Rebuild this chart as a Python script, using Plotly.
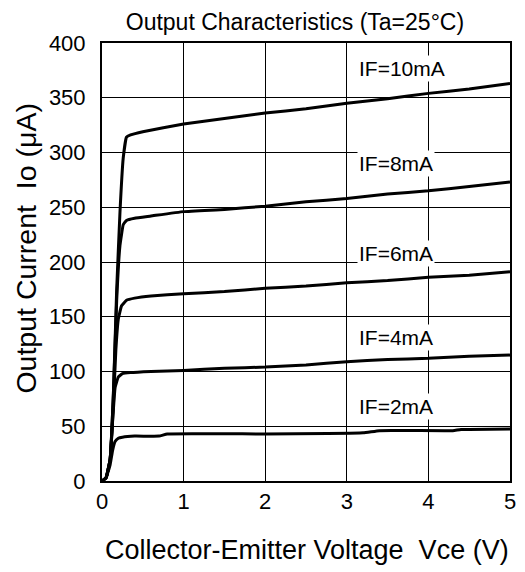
import plotly.graph_objects as go

# Vce (V) and Io (uA) for each forward current
V10 = [0, 0.05, 0.1, 0.14, 0.18, 0.22, 0.26, 0.3, 0.35, 0.5, 1, 1.5, 2, 2.5, 3, 3.5, 4, 4.5, 5]
I10 = [0, 3, 20, 80, 175, 245, 295, 314, 316, 319, 326, 331, 336, 340, 345, 349, 354, 358, 363]

V8 = [0, 0.05, 0.1, 0.14, 0.18, 0.22, 0.26, 0.3, 0.4, 0.6, 1, 1.5, 2, 2.5, 3, 3.5, 4, 4.5, 5]
I8 = [0, 3, 20, 80, 165, 215, 234, 238, 240, 242, 246, 248, 251, 255, 258, 262, 265, 269, 273]

V6 = [0, 0.05, 0.1, 0.14, 0.17, 0.2, 0.24, 0.3, 0.4, 0.6, 1, 1.5, 2, 2.5, 3, 3.5, 4, 4.5, 5]
I6 = [0, 3, 20, 70, 120, 148, 160, 165, 167, 169, 171, 173, 176, 178, 181, 183, 186, 188, 191]

V4 = [0, 0.05, 0.1, 0.13, 0.16, 0.2, 0.25, 0.35, 0.6, 1, 1.5, 2, 2.5, 3, 3.5, 4, 4.5, 5]
I4 = [0, 3, 20, 55, 85, 95, 98, 99, 100, 101, 103, 104, 106, 109, 111, 112, 114, 115]

V2 = [0, 0.05, 0.1, 0.13, 0.16, 0.2, 0.25, 0.4, 0.7, 0.8, 2, 3.2, 3.4, 4.3, 4.4, 5]
I2 = [0, 3, 15, 28, 36, 39, 40, 41, 41, 43, 43, 44, 46, 46, 47, 47.5]

series = [("IF=10mA", V10, I10), ("IF=8mA", V8, I8), ("IF=6mA", V6, I6),
          ("IF=4mA", V4, I4), ("IF=2mA", V2, I2)]

label_x = 3.12
label_y = [377, 290, 208, 131, 68]

x_ticks = [0, 1, 2, 3, 4, 5]
y_ticks = [0, 50, 100, 150, 200, 250, 300, 350, 400]

FONT = "Liberation Sans, Arial, sans-serif"

fig = go.Figure()
for name, v, i in series:
    fig.add_trace(go.Scatter(x=v, y=i, mode="lines", name=name,
                             line=dict(color="black", width=3, shape="spline", smoothing=0.3),
                             showlegend=False))

for (name, _, _), ly in zip(series, label_y):
    fig.add_annotation(x=label_x, y=ly, text=name, showarrow=False,
                       xanchor="left", yanchor="middle",
                       bgcolor="white", borderpad=1,
                       font=dict(family=FONT, size=21, color="black"))

# axis titles as paper annotations
fig.add_annotation(text="Collector-Emitter Voltage  Vce (V)", xref="paper", yref="paper",
                   x=0.502, y=-0.158, xanchor="center", yanchor="middle", showarrow=False,
                   font=dict(family=FONT, size=27, color="black"))
fig.add_annotation(text="Output Current  Io (μA)", xref="paper", yref="paper",
                   x=-0.187, y=0.53, xanchor="center", yanchor="middle", showarrow=False,
                   textangle=-90, font=dict(family=FONT, size=28.5, color="black"))

fig.update_layout(
    width=517, height=564,
    margin=dict(l=94, r=15, t=35, b=91, autoexpand=False),
    paper_bgcolor="white", plot_bgcolor="white",
    font=dict(family=FONT, color="black"),
    title=dict(text="Output Characteristics (Ta=25°C)", x=0.555, xanchor="center",
               y=0.975, yanchor="middle",
               font=dict(family=FONT, size=23, color="black")),
)
fig.update_xaxes(range=[0, 5], tickvals=x_ticks, showgrid=True, gridcolor="black", gridwidth=1,
                 showline=True, linecolor="black", linewidth=2, mirror=True,
                 zeroline=False, ticks="", tickfont=dict(size=22), ticklabelstandoff=0)
fig.update_yaxes(range=[0, 400], tickvals=y_ticks, showgrid=True, gridcolor="black", gridwidth=1,
                 showline=True, linecolor="black", linewidth=2, mirror=True,
                 zeroline=False, ticks="", tickfont=dict(size=22), ticklabelstandoff=10)

fig.write_html("out.html")
